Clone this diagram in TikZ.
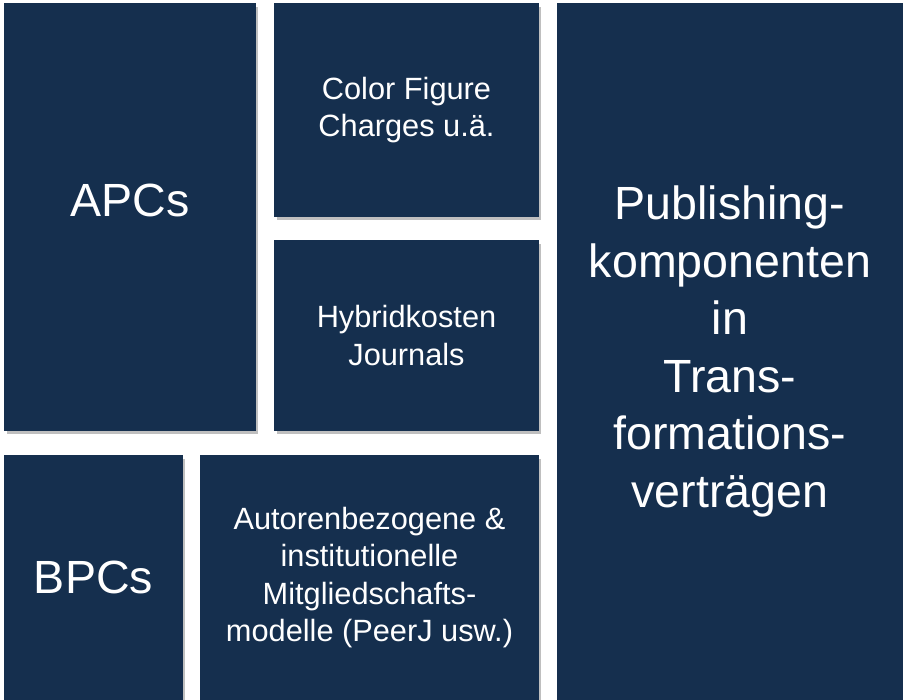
\documentclass[tikz,border=0pt]{standalone}
\usepackage{fontspec}
\setmainfont{Liberation Sans}
\usetikzlibrary{shadows}

\definecolor{tilenavy}{RGB}{21,47,78}

\tikzset{
  tile/.style={rectangle, fill=tilenavy, text=white, align=center, inner sep=0pt,
    drop shadow={shadow xshift=0.05cm, shadow yshift=-0.07cm, opacity=0.25, fill=black}},
  bigtxt/.style={font=\fontsize{26.5}{32.7}\selectfont},
  smalltxt/.style={font=\fontsize{17.5}{21.2}\selectfont}
}

\begin{document}
\begin{tikzpicture}[x=0.02cm,y=-0.02cm]
\useasboundingbox[fill=white] (0,0) rectangle (903,700);

% left column
\node[tile, minimum width=5.04cm, minimum height=8.56cm,
  label={[bigtxt, text=white, yshift=0.34cm]center:APCs}] (apc) at (130,217) {};
\node[tile, bigtxt, minimum width=3.58cm, minimum height=4.9cm] (bpc) at (93.5,577.5) {BPCs};

% middle column
\node[tile, smalltxt, minimum width=5.3cm, minimum height=4.28cm] (color) at (406.5,110) {Color Figure\\Charges u.ä.};
\node[tile, smalltxt, minimum width=5.3cm, minimum height=3.82cm] (hybrid) at (406.5,335.5) {Hybridkosten\\Journals};
\node[tile, smalltxt, minimum width=6.78cm, minimum height=4.9cm] (member) at (369.5,577.5)
  {Autorenbezogene \&\\institutionelle\\Mitgliedschafts-\\modelle (PeerJ usw.)};

% right column
\node[tile, bigtxt, minimum width=6.92cm, minimum height=13.94cm] (publish) at (730,351.5)
  {Publishing-\\komponenten\\in\\Trans-\\formations-\\verträgen};
\end{tikzpicture}
\end{document}
